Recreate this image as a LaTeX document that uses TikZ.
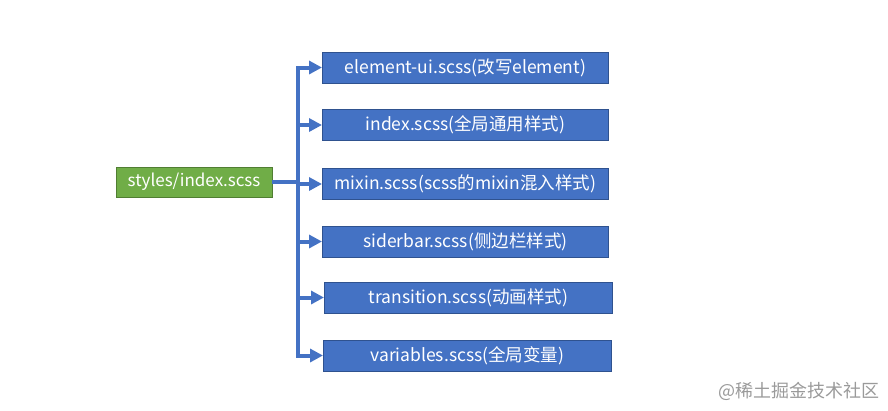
\documentclass[tikz,border=0pt]{standalone}
\usepackage{fontspec}
\setmainfont{Noto Sans CJK SC}
\usetikzlibrary{arrows.meta}
\definecolor{boxblue}{HTML}{4472C4}
\definecolor{boxblueb}{HTML}{2F528F}
\definecolor{boxgreen}{HTML}{70AD47}
\definecolor{boxgreenb}{HTML}{507E32}
\definecolor{wm}{HTML}{9A9A9A}
\begin{document}
\begin{tikzpicture}[x=1pt,y=-1pt,
  bluebox/.style={draw=boxblueb,fill=boxblue,line width=0.8pt,text=white,
    minimum width=286pt,minimum height=31pt,inner sep=0pt,
    font=\fontsize{17.5}{20}\selectfont,anchor=west},
  greenbox/.style={draw=boxgreenb,fill=boxgreen,line width=0.8pt,text=white,
    minimum width=156pt,minimum height=30pt,inner sep=0pt,
    font=\fontsize{17}{20}\selectfont},
  trunk/.style={draw=boxblue,line width=4pt,line cap=rect},
  branch/.style={draw=boxblue,line width=4pt,-{Triangle[length=13pt,width=13pt]}}]
\useasboundingbox (0,0) rectangle (888,410);
\node[greenbox] (g) at (194,182) {styles/index.scss};
\node[bluebox] (b1) at (322,67.5) {element-ui.scss(改写element)};
\node[bluebox] (b2) at (322,125) {index.scss(全局通用样式)};
\node[bluebox] (b3) at (322,184) {mixin.scss(scss的mixin混入样式)};
\node[bluebox] (b4) at (322,241.5) {siderbar.scss(侧边栏样式)};
\node[bluebox,minimum width=288pt] (b5) at (324,297.5) {transition.scss(动画样式)};
\node[bluebox,minimum width=288pt] (b6) at (323,355.5) {variables.scss(全局变量)};
\coordinate (c1) at (298,67.5);
\coordinate (c2) at (298,125);
\coordinate (c3) at (298,184);
\coordinate (c4) at (298,241.5);
\coordinate (c5) at (298,297.5);
\coordinate (c6) at (298,355.5);
\coordinate (cg) at (298,182);
\draw[trunk] (c1) -- (c6);
\draw[draw=boxblue,line width=4pt] (g.east) -- (cg);
\foreach \i in {1,...,6} {\draw[branch] (c\i) -- (b\i.west);}
\node[text=wm,font=\fontsize{18}{20}\selectfont,anchor=east,inner sep=0pt] (wmk) at (880,391) {@稀土掘金技术社区};
\end{tikzpicture}
\end{document}
